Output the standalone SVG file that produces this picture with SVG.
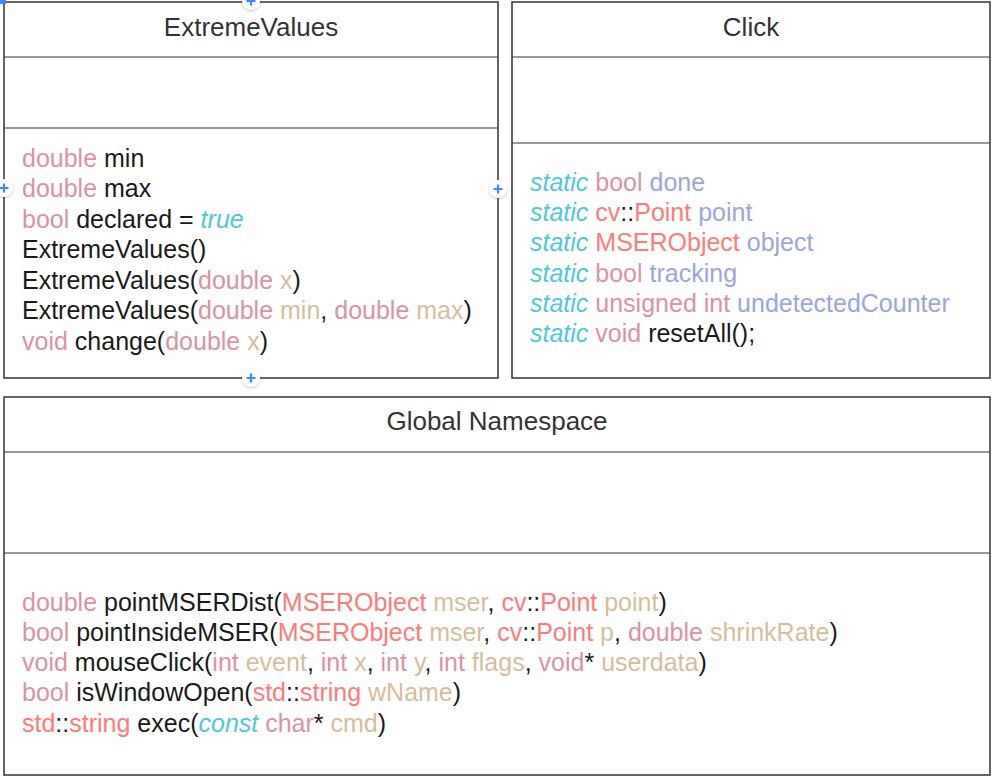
<svg xmlns="http://www.w3.org/2000/svg" width="995" height="778" viewBox="0 0 995 778">
<defs>
<filter id="sh" x="-50%" y="-50%" width="200%" height="200%"><feDropShadow dx="0" dy="1" stdDeviation="1.2" flood-color="#000" flood-opacity="0.25"/></filter>
</defs>
<style>
.box{fill:#fff;stroke:#333;stroke-width:1.5}
.ln{stroke:#333;stroke-width:1.2}
.t{font-family:"Liberation Sans",Arial,sans-serif;font-size:25px;fill:#1a1a1a}
.title{font-family:"Liberation Sans",Arial,sans-serif;font-size:26px;fill:#333;text-anchor:middle}
.k{fill:#d993a5}
.p{fill:#d6bd9b}
.c{fill:#4fc8d8;font-style:italic}
.r{fill:#ff7a7a}
.m{fill:#9ca6da}
.h circle{fill:#fff;filter:url(#sh)}
.h path{stroke:#3b8df5;stroke-width:2.2}
</style>
<g id="ExtremeValues">
<rect class="box" x="4" y="2" width="494" height="376"/>
<line class="ln" x1="4" y1="57" x2="498" y2="57"/>
<line class="ln" x1="4" y1="128" x2="498" y2="128"/>
<text class="title" x="251" y="36">ExtremeValues</text>
<text class="t" x="22" y="167"><tspan class="k">double</tspan> min</text>
<text class="t" x="22" y="197"><tspan class="k">double</tspan> max</text>
<text class="t" x="22" y="228"><tspan class="k">bool</tspan> declared = <tspan class="c">true</tspan></text>
<text class="t" x="22" y="258">ExtremeValues()</text>
<text class="t" x="22" y="289">ExtremeValues(<tspan class="k">double</tspan> <tspan class="p">x</tspan>)</text>
<text class="t" x="22" y="319">ExtremeValues(<tspan class="k">double</tspan> <tspan class="p">min</tspan>, <tspan class="k">double</tspan> <tspan class="p">max</tspan>)</text>
<text class="t" x="22" y="350"><tspan class="k">void</tspan> change(<tspan class="k">double</tspan> <tspan class="p">x</tspan>)</text>
</g>
<g id="Click">
<rect class="box" x="512" y="2" width="478" height="376"/>
<line class="ln" x1="512" y1="57" x2="990" y2="57"/>
<line class="ln" x1="512" y1="143" x2="990" y2="143"/>
<text class="title" x="751" y="36">Click</text>
<text class="t" x="530" y="191"><tspan class="c">static</tspan> <tspan class="k">bool</tspan> <tspan class="m">done</tspan></text>
<text class="t" x="530" y="221"><tspan class="c">static</tspan> <tspan class="r">cv</tspan>::<tspan class="r">Point</tspan> <tspan class="m">point</tspan></text>
<text class="t" x="530" y="251"><tspan class="c">static</tspan> <tspan class="r">MSERObject</tspan> <tspan class="m">object</tspan></text>
<text class="t" x="530" y="282"><tspan class="c">static</tspan> <tspan class="k">bool</tspan> <tspan class="m">tracking</tspan></text>
<text class="t" x="530" y="312"><tspan class="c">static</tspan> <tspan class="k">unsigned int</tspan> <tspan class="m">undetectedCounter</tspan></text>
<text class="t" x="530" y="342"><tspan class="c">static</tspan> <tspan class="k">void</tspan> resetAll();</text>
</g>
<g id="GlobalNamespace">
<rect class="box" x="4" y="397" width="986" height="378"/>
<line class="ln" x1="4" y1="452" x2="990" y2="452"/>
<line class="ln" x1="4" y1="553" x2="990" y2="553"/>
<text class="title" x="497" y="430">Global Namespace</text>
<text class="t" x="22" y="611"><tspan class="k">double</tspan> pointMSERDist(<tspan class="r">MSERObject</tspan> <tspan class="p">mser</tspan>, <tspan class="r">cv</tspan>::<tspan class="r">Point</tspan> <tspan class="p">point</tspan>)</text>
<text class="t" x="22" y="641"><tspan class="k">bool</tspan> pointInsideMSER(<tspan class="r">MSERObject</tspan> <tspan class="p">mser</tspan>, <tspan class="r">cv</tspan>::<tspan class="r">Point</tspan> <tspan class="p">p</tspan>, <tspan class="k">double</tspan> <tspan class="p">shrinkRate</tspan>)</text>
<text class="t" x="22" y="671"><tspan class="k">void</tspan> mouseClick(<tspan class="k">int</tspan> <tspan class="p">event</tspan>, <tspan class="k">int</tspan> <tspan class="p">x</tspan>, <tspan class="k">int</tspan> <tspan class="p">y</tspan>, <tspan class="k">int</tspan> <tspan class="p">flags</tspan>, <tspan class="k">void</tspan>* <tspan class="p">userdata</tspan>)</text>
<text class="t" x="22" y="701"><tspan class="k">bool</tspan> isWindowOpen(<tspan class="r">std</tspan>::<tspan class="r">string</tspan> <tspan class="p">wName</tspan>)</text>
<text class="t" x="22" y="732"><tspan class="r">std</tspan>::<tspan class="r">string</tspan> exec(<tspan class="c">const</tspan> <tspan class="k">char</tspan>* <tspan class="p">cmd</tspan>)</text>
</g>
<g id="handles" class="h">
<rect x="0" y="0" width="6" height="4" fill="#3b8df5"/>
<g transform="translate(251,1)"><circle r="9"/><path d="M-4.5 0H4.5M0 -4.5V4.5"/></g>
<g transform="translate(4,188)"><circle r="9"/><path d="M-4.5 0H4.5M0 -4.5V4.5"/></g>
<g transform="translate(498,189)"><circle r="9"/><path d="M-4.5 0H4.5M0 -4.5V4.5"/></g>
<g transform="translate(251,378)"><circle r="9"/><path d="M-4.5 0H4.5M0 -4.5V4.5"/></g>
</g>
</svg>
